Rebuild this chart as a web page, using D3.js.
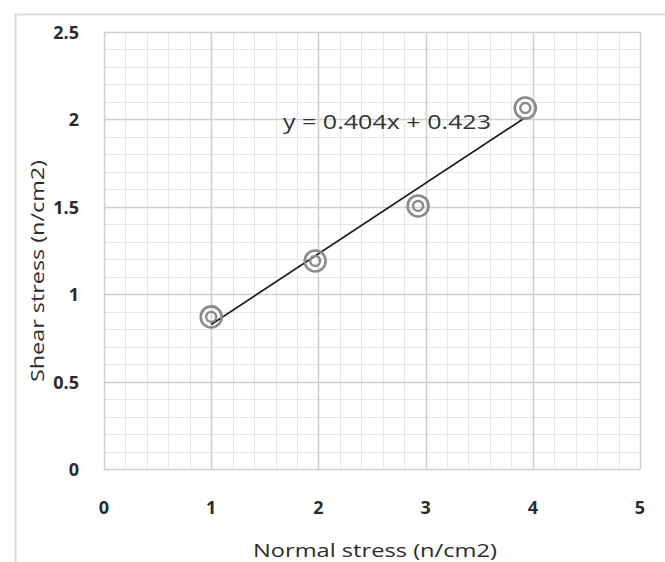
<!DOCTYPE html>
<html>
<head>
<meta charset="utf-8">
<script src="https://cdn.jsdelivr.net/npm/d3@7"></script>
<style>
  body { margin: 0; background: #fff; }
  text { font-family: "Open Sans", sans-serif; }
</style>
</head>
<body>
<svg width="665" height="562"></svg>
<script>
// data
var normalStress = [1.0, 1.97, 2.93, 3.93];
var shearStress = [0.87, 1.19, 1.505, 2.065];
var trendSlope = 0.404, trendIntercept = 0.423;
var xTicks = [0, 1, 2, 3, 4, 5];
var yTicks = [0, 0.5, 1, 1.5, 2, 2.5];

var svg = d3.select("svg");
var pLeft = 104, pRight = 640, pTop = 32, pBottom = 469;

var x = d3.scaleLinear().domain([0, 5]).range([pLeft, pRight]);
var y = d3.scaleLinear().domain([0, 2.5]).range([pBottom, pTop]);

// chart frame
svg.append("path")
    .attr("d", "M15.5,562 V14.5 H665")
    .attr("fill", "none")
    .attr("stroke", "#dcdcdc")
    .attr("stroke-width", 2);

var g = svg.append("g");

// minor grid
g.selectAll(".vminor")
    .data(d3.range(0, 5.001, 0.2))
    .enter().append("line")
    .attr("x1", d => Math.round(x(d)) + 0.5).attr("x2", d => Math.round(x(d)) + 0.5)
    .attr("y1", pTop).attr("y2", pBottom)
    .attr("stroke", "#e6e6e6");
g.selectAll(".hminor")
    .data(d3.range(0, 2.501, 0.1))
    .enter().append("line")
    .attr("y1", d => Math.round(y(d)) + 0.5).attr("y2", d => Math.round(y(d)) + 0.5)
    .attr("x1", pLeft).attr("x2", pRight)
    .attr("stroke", "#e6e6e6");

// major grid
g.selectAll(".vmajor")
    .data(xTicks)
    .enter().append("line")
    .attr("x1", d => Math.round(x(d)) + 0.5).attr("x2", d => Math.round(x(d)) + 0.5)
    .attr("y1", pTop).attr("y2", pBottom)
    .attr("stroke", "#cfcfcf").attr("stroke-width", 1.5);
g.selectAll(".hmajor")
    .data(yTicks)
    .enter().append("line")
    .attr("y1", d => Math.round(y(d)) + 0.5).attr("y2", d => Math.round(y(d)) + 0.5)
    .attr("x1", pLeft).attr("x2", pRight)
    .attr("stroke", "#cfcfcf").attr("stroke-width", 1.5);

// tick labels
svg.selectAll(".xlab")
    .data(xTicks)
    .enter().append("text")
    .attr("x", d => x(d)).attr("y", 514)
    .attr("text-anchor", "middle")
    .attr("font-size", "18px").attr("font-weight", "bold")
    .attr("fill", "#2b2b2b")
    .text(d => d);
svg.selectAll(".ylab")
    .data(yTicks)
    .enter().append("text")
    .attr("x", 79).attr("y", d => y(d) + 7)
    .attr("text-anchor", "end")
    .attr("font-size", "18px").attr("font-weight", "bold")
    .attr("fill", "#2b2b2b")
    .text(d => d);

// trendline
var x0 = d3.min(normalStress), x1 = d3.max(normalStress);
svg.append("line")
    .attr("x1", x(x0)).attr("y1", y(trendSlope * x0 + trendIntercept))
    .attr("x2", x(x1)).attr("y2", y(trendSlope * x1 + trendIntercept))
    .attr("stroke", "#1a1a1a").attr("stroke-width", 1.7);

// markers
var pts = normalStress.map((d, i) => [d, shearStress[i]]);
var m = svg.selectAll(".pt").data(pts).enter().append("g")
    .attr("transform", d => "translate(" + x(d[0]) + "," + y(d[1]) + ")");
m.append("circle").attr("r", 10.5)
    .attr("fill", "none").attr("stroke", "#8a8a8a").attr("stroke-width", 2.6);
m.append("circle").attr("r", 5)
    .attr("fill", "none").attr("stroke", "#8a8a8a").attr("stroke-width", 2.4);

// equation
svg.append("text")
    .attr("x", 283).attr("y", 129)
    .attr("font-size", "20px")
    .attr("textLength", 208).attr("lengthAdjust", "spacingAndGlyphs")
    .attr("fill", "#333")
    .text("y = 0.404x + 0.423");

// axis titles
svg.append("text")
    .attr("x", (pLeft + pRight) / 2 + 3).attr("y", 557)
    .attr("text-anchor", "middle")
    .attr("font-size", "18px")
    .attr("textLength", 244).attr("lengthAdjust", "spacingAndGlyphs")
    .attr("fill", "#2b2b2b")
    .text("Normal stress (n/cm2)");
svg.append("text")
    .attr("transform", "translate(44,271) rotate(-90)")
    .attr("text-anchor", "middle")
    .attr("font-size", "18px")
    .attr("textLength", 222).attr("lengthAdjust", "spacingAndGlyphs")
    .attr("fill", "#2b2b2b")
    .text("Shear stress (n/cm2)");
</script>
</body>
</html>
